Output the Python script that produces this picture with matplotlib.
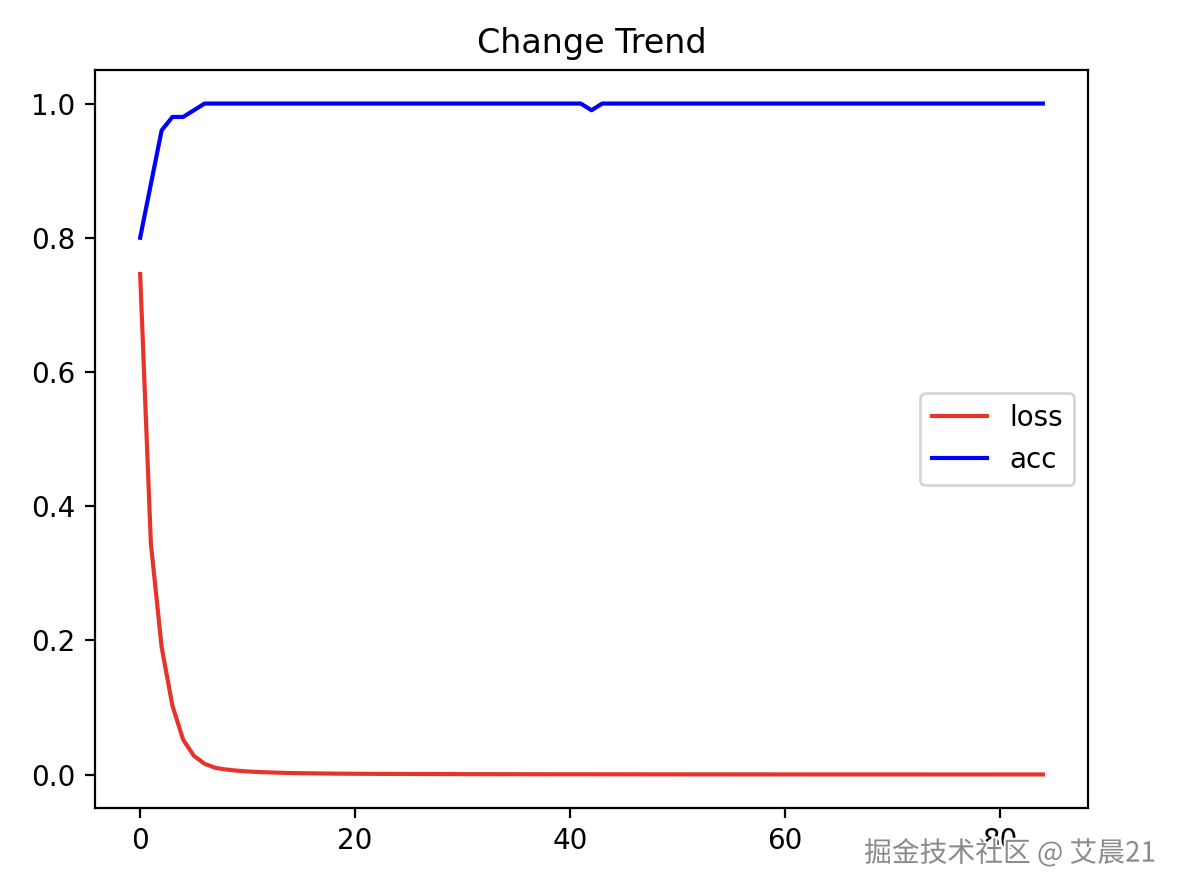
import matplotlib
matplotlib.use('Agg')
import matplotlib.pyplot as plt
import matplotlib.patheffects as pe

epochs = list(range(85))

loss = [0.746, 0.344, 0.190, 0.103, 0.052, 0.028, 0.016, 0.0100, 0.0075, 0.0058,
        0.0046, 0.0038, 0.0032, 0.0027, 0.0023, 0.0020, 0.0018, 0.0016, 0.0014, 0.0013,
        0.0012, 0.0011, 0.0010, 0.00095, 0.0009, 0.00085, 0.0008, 0.00075, 0.0007, 0.00066,
        0.00063, 0.0006, 0.00057, 0.00054, 0.00052, 0.0005, 0.00048, 0.00046, 0.00044, 0.00042,
        0.0004, 0.00039, 0.00038, 0.00037, 0.00036, 0.00035, 0.00034, 0.00033, 0.00032, 0.00031,
        0.0003, 0.00029, 0.00028, 0.00028, 0.00027, 0.00026, 0.00026, 0.00025, 0.00025, 0.00024,
        0.00024, 0.00023, 0.00023, 0.00022, 0.00022, 0.00021, 0.00021, 0.0002, 0.0002, 0.0002,
        0.00019, 0.00019, 0.00019, 0.00018, 0.00018, 0.00018, 0.00017, 0.00017, 0.00017, 0.00016,
        0.00016, 0.00016, 0.00016, 0.00015, 0.00015]

acc = [0.80, 0.88, 0.96, 0.98, 0.98, 0.99, 1.0, 1.0, 1.0, 1.0,
       1.0, 1.0, 1.0, 1.0, 1.0, 1.0, 1.0, 1.0, 1.0, 1.0,
       1.0, 1.0, 1.0, 1.0, 1.0, 1.0, 1.0, 1.0, 1.0, 1.0,
       1.0, 1.0, 1.0, 1.0, 1.0, 1.0, 1.0, 1.0, 1.0, 1.0,
       1.0, 1.0, 0.99, 1.0, 1.0, 1.0, 1.0, 1.0, 1.0, 1.0,
       1.0, 1.0, 1.0, 1.0, 1.0, 1.0, 1.0, 1.0, 1.0, 1.0,
       1.0, 1.0, 1.0, 1.0, 1.0, 1.0, 1.0, 1.0, 1.0, 1.0,
       1.0, 1.0, 1.0, 1.0, 1.0, 1.0, 1.0, 1.0, 1.0, 1.0,
       1.0, 1.0, 1.0, 1.0, 1.0]

fig = plt.figure(figsize=(5.89, 4.46), dpi=200)
ax = fig.add_axes([95/1178, 1-808/892, (1088-95)/1178, (808-70)/892])

ax.plot(epochs, loss, color='#e5342a', label='loss')
ax.plot(epochs, acc, color='blue', label='acc')
ax.set_title('Change Trend')
ax.legend(loc='center right')

# watermark
fig.text(0.981, 0.043, '掘金技术社区 @ 艾晨21', ha='right', va='center',
         fontsize=10, color='#8a8a8a', family=['Noto Sans CJK SC', 'DejaVu Sans'],
         path_effects=[pe.withStroke(linewidth=1.5, foreground='white')])

plt.savefig('out.png', dpi=200)
